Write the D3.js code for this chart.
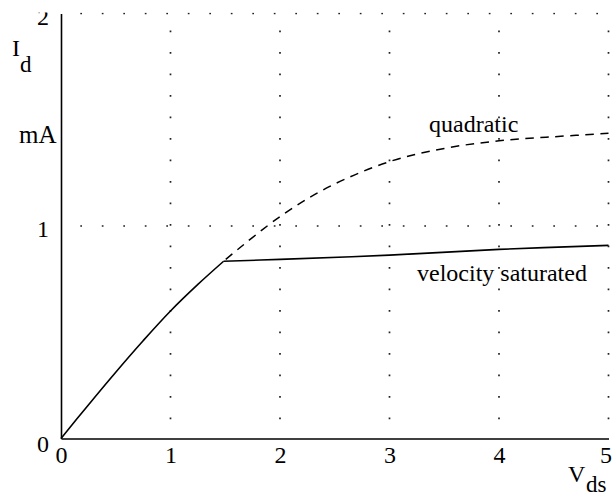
<!DOCTYPE html>
<html>
<head>
<meta charset="utf-8">
<script src="https://cdn.jsdelivr.net/npm/d3@7"></script>
<style>
  body { margin: 0; background: #fff; }
</style>
</head>
<body>
<div id="chart"></div>
<script>
  // Tick values
  var xTicks = [0, 1, 2, 3, 4, 5];
  var yTicks = [0, 1, 2];

  // Linear region (shared by both curves)
  var linearV = [0, 0.25, 0.5, 0.75, 1, 1.25, 1.485];
  var linearI = [0, 0.158, 0.312, 0.46, 0.6, 0.725, 0.834];

  // Velocity saturated branch
  var satV = [1.485, 2, 3, 4, 5];
  var satI = [0.834, 0.843, 0.863, 0.89, 0.909];

  // Quadratic branch (dashed)
  var quadV = [1.485, 1.57, 2, 2.45, 3, 3.5, 4, 4.5, 5];
  var quadI = [0.834, 0.871, 1.044, 1.185, 1.303, 1.365, 1.401, 1.42, 1.436];

  var width = 613, height = 498;
  var serif = "'Liberation Serif'";

  var svg = d3.select("#chart")
    .append("svg")
    .attr("width", width)
    .attr("height", height);

  var x = d3.scaleLinear().domain([0, 5]).range([61, 608.5]);
  var y = d3.scaleLinear().domain([0, 2]).range([438.5, 13.5]);

  var g = svg.append("g");

  // dotted grid
  var dots = g.append("g")
    .attr("stroke", "#222")
    .attr("stroke-width", 1.7)
    .attr("stroke-dasharray", "1.7,19.8")
    .attr("stroke-dashoffset", 2.2);

  dots.selectAll(".vgrid")
    .data(xTicks.filter(function(d) { return d > 0; }))
    .enter().append("line")
    .attr("class", "vgrid")
    .attr("x1", function(d) { return x(d); })
    .attr("x2", function(d) { return x(d); })
    .attr("y1", y(0))
    .attr("y2", y(2) - 1);

  dots.selectAll(".hgrid")
    .data(yTicks.filter(function(d) { return d > 0; }))
    .enter().append("line")
    .attr("class", "hgrid")
    .attr("y1", function(d) { return y(d); })
    .attr("y2", function(d) { return y(d); })
    .attr("x1", x(0))
    .attr("x2", x(5) + 1);

  // axes (no tick marks)
  var xAxis = d3.axisBottom(x).tickValues(xTicks).tickSize(0).tickPadding(10)
    .tickFormat(d3.format("d"));
  var yAxis = d3.axisLeft(y).tickValues(yTicks).tickSize(0).tickPadding(12)
    .tickFormat(d3.format("d"));

  var gx = g.append("g")
    .attr("transform", "translate(0," + y(0) + ")")
    .call(xAxis)
    .attr("font-family", "Liberation Serif")
    .attr("font-size", 24);
  gx.select(".domain").attr("stroke", "#000").attr("stroke-width", 1.6);
  gx.selectAll("text")
    .style("font-family", serif)
    .style("font-size", "24px")
    .attr("fill", "#000")
    .attr("dy", "0.72em")
    .attr("y", 7)
    .attr("dx", function(d) { return d === 5 ? -3 : 0; });

  var gy = g.append("g")
    .attr("transform", "translate(" + x(0) + ",0)")
    .call(yAxis)
    .attr("font-family", "Liberation Serif")
    .attr("font-size", 24);
  gy.select(".domain").attr("stroke", "#000").attr("stroke-width", 1.6);
  gy.selectAll("text")
    .style("font-family", serif)
    .style("font-size", "24px")
    .attr("fill", "#000")
    .attr("x", -12)
    .attr("dy", function(d) { return d === 0 ? "0.54em" : "0.45em"; });

  // curves
  var line = d3.line()
    .x(function(d) { return x(d[0]); })
    .y(function(d) { return y(d[1]); })
    .curve(d3.curveCatmullRom.alpha(0.5));

  g.append("path")
    .datum(linearV.map(function(v, i) { return [v, linearI[i]]; }))
    .attr("fill", "none")
    .attr("stroke", "#000")
    .attr("stroke-width", 1.6)
    .attr("d", line);

  g.append("path")
    .datum(satV.map(function(v, i) { return [v, satI[i]]; }))
    .attr("fill", "none")
    .attr("stroke", "#000")
    .attr("stroke-width", 1.6)
    .attr("d", line);

  g.append("path")
    .datum(quadV.map(function(v, i) { return [v, quadI[i]]; }))
    .attr("fill", "none")
    .attr("stroke", "#000")
    .attr("stroke-width", 1.5)
    .attr("stroke-dasharray", "8.5,6.5")
    .attr("stroke-dashoffset", -3)
    .attr("d", line);

  // labels
  var lab = g.append("g").attr("font-family", "Liberation Serif");

  function label(sx, sy, size, txt) {
    var t = lab.append("text")
      .attr("x", sx).attr("y", sy)
      .style("font-family", serif)
      .style("font-size", size + "px");
    if (txt) t.text(txt);
    return t;
  }

  var id = label(12, 56, 24);
  id.append("tspan").text("I");
  id.append("tspan").attr("x", 20).attr("y", 72).style("font-size", "23px").text("d");

  label(19, 143, 25, "mA");

  var vd = label(568, 482, 24);
  vd.append("tspan").text("V");
  vd.append("tspan").attr("x", 586).attr("y", 492).style("font-size", "23px").text("ds");

  label(429, 132, 24, "quadratic");
  label(417, 281, 24, "velocity saturated");

  // the reference is cut just above the top of the plot
  svg.append("rect")
    .attr("x", 0).attr("y", 0)
    .attr("width", width).attr("height", 12.5)
    .attr("fill", "#fff");
</script>
</body>
</html>
